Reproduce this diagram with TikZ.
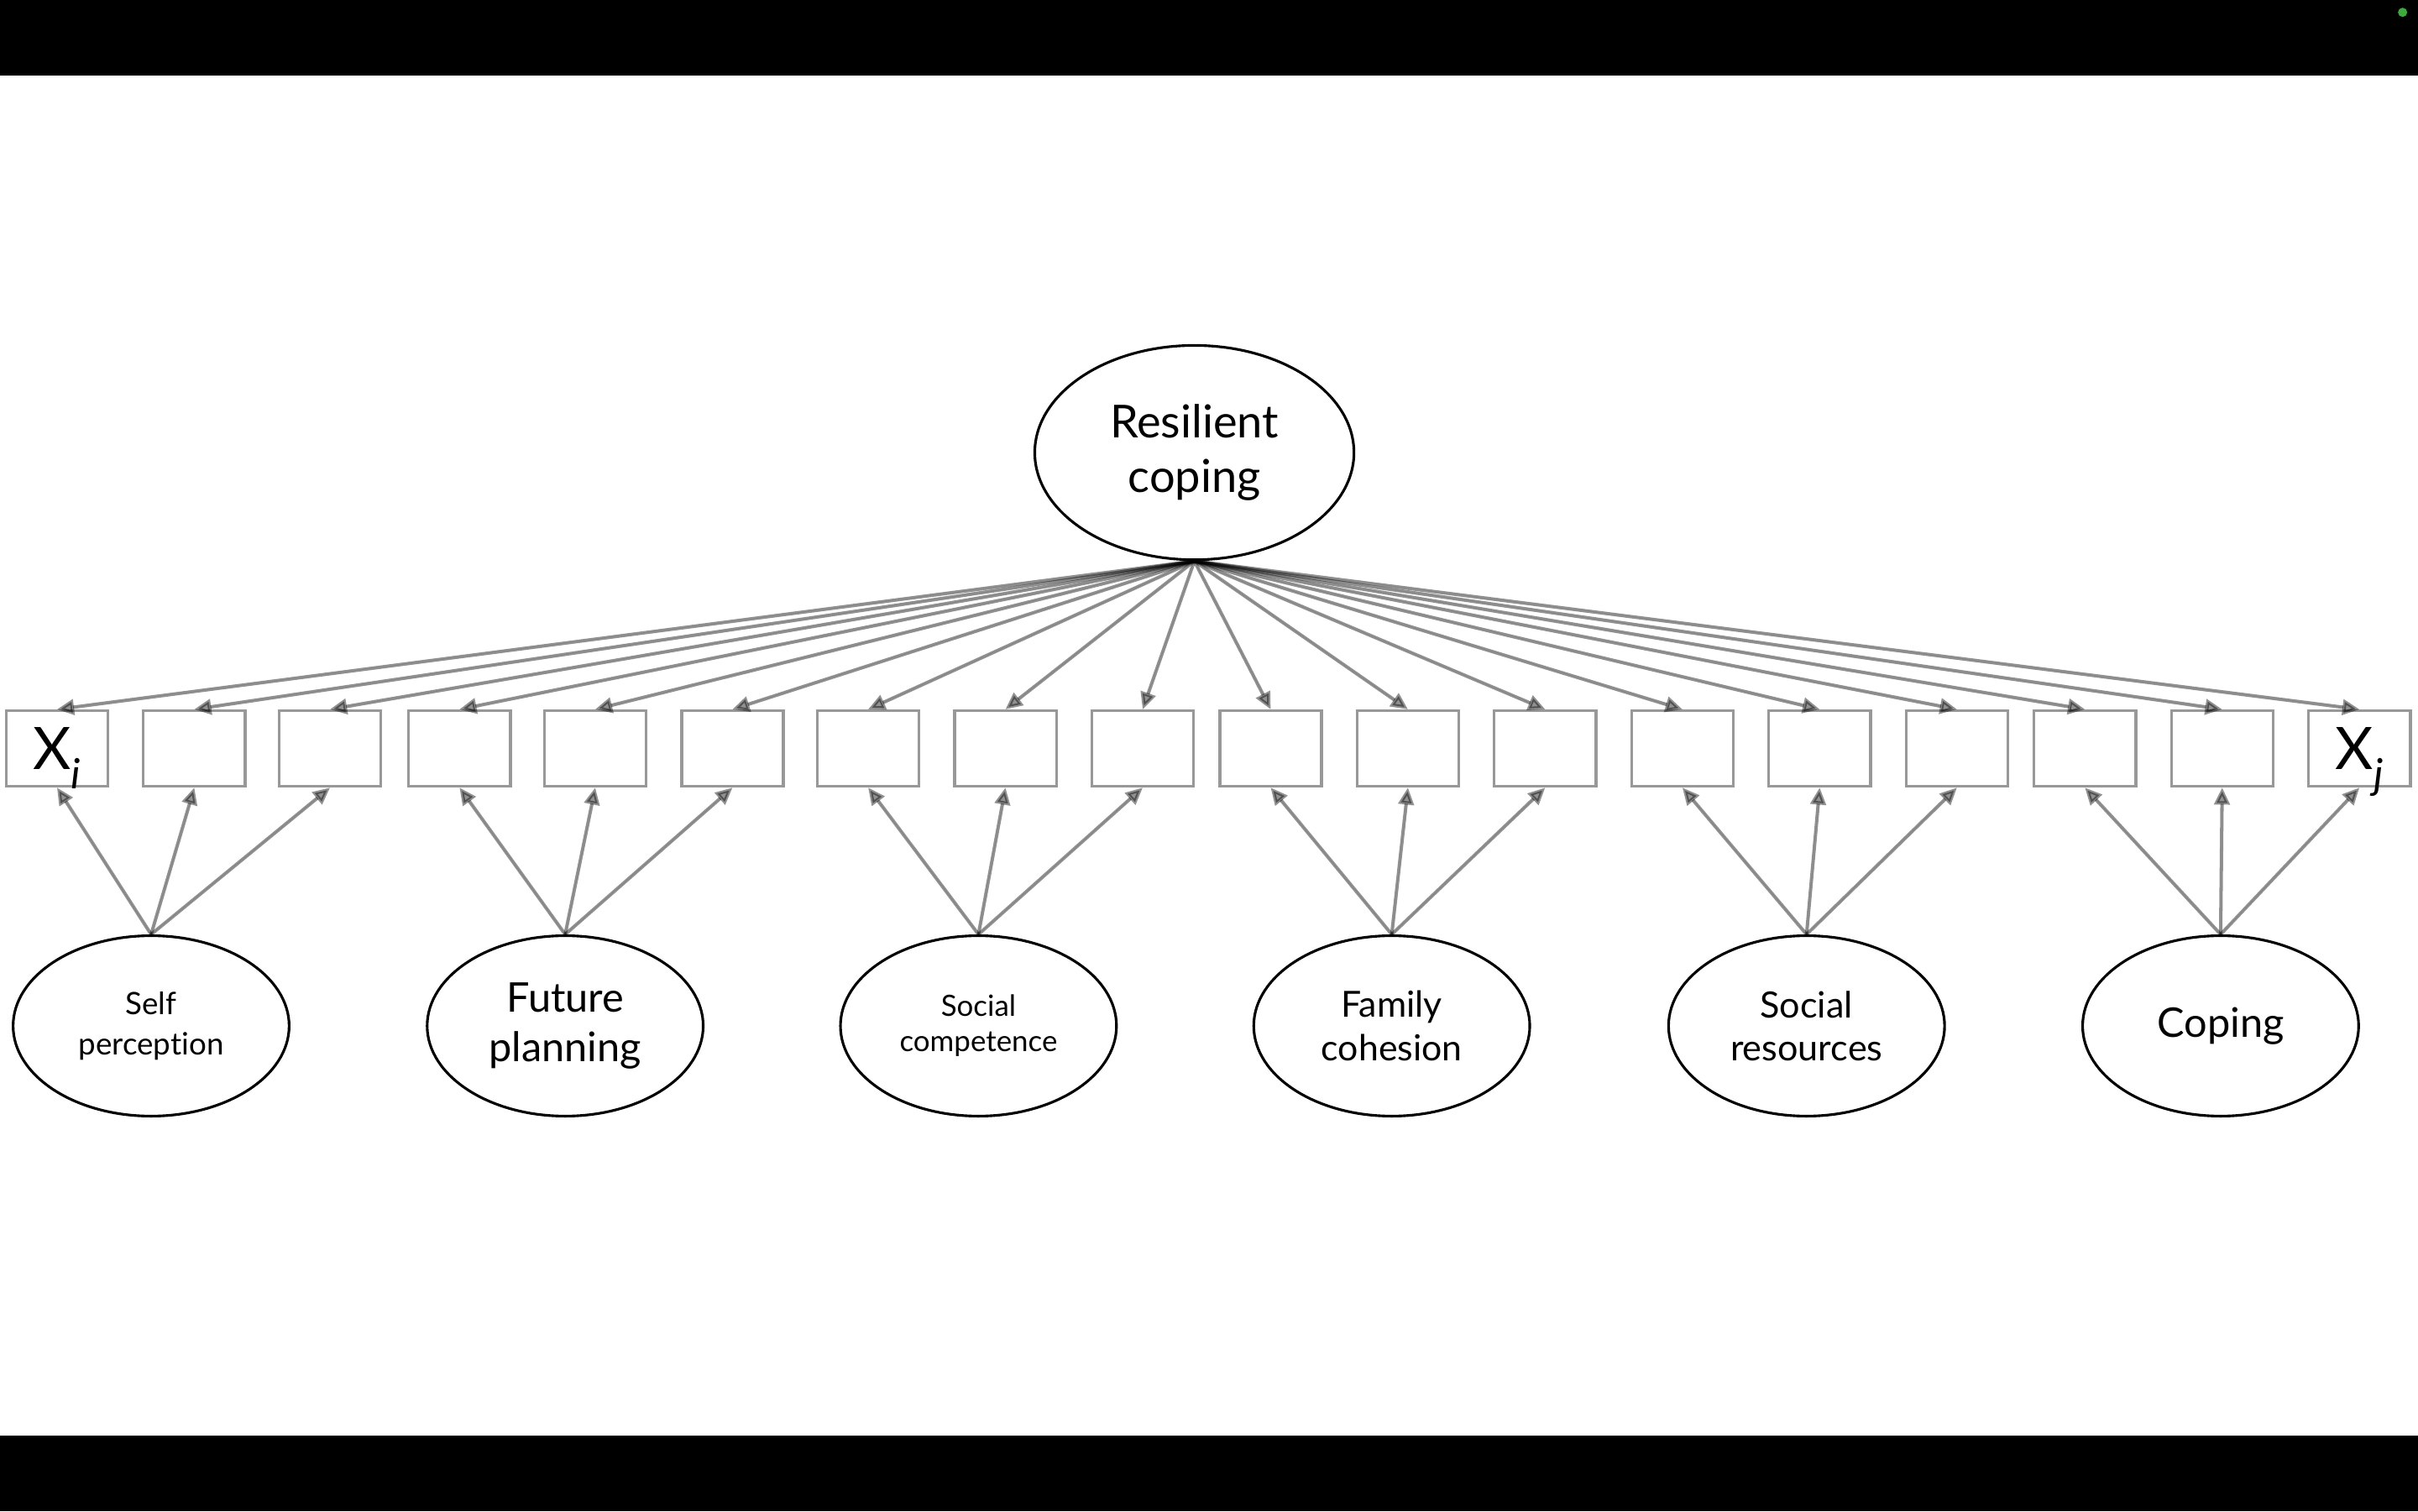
\documentclass[tikz,border=0pt]{standalone}
\usepackage{fontspec}
\setmainfont[Ligatures=NoCommon]{Lato}
\usetikzlibrary{shapes.geometric,arrows.meta}
\definecolor{boxgray}{RGB}{152,152,152}
\definecolor{dotgreen}{RGB}{60,170,60}
\begin{document}
\begin{tikzpicture}[x=1pt,y=-1pt,
  latent/.style={ellipse, draw=black, line width=1.7pt, inner sep=0pt, align=center, fill=white},
  lowlat/.style={latent, minimum width=179pt, minimum height=117pt},
  obs/.style={rectangle, draw=boxgray, line width=1.8pt, minimum width=66pt, minimum height=49pt, inner sep=0pt, fill=white},
  load/.style={-{Triangle[length=11pt,width=10pt]}, line width=2.2pt, draw=black, fill=black, opacity=0.43}
]
\useasboundingbox (0,0) rectangle (1568,980);
\fill[white] (0,0) rectangle (1568,980);
\fill[black] (0,0) rectangle (1568,49);
\fill[black] (0,931) rectangle (1568,980);
\fill[dotgreen] (1558,8) circle (3pt);

% top latent
\node[latent, minimum width=207pt, minimum height=139pt, font=\fontsize{29.5}{35}\selectfont] (rc) at (774.5,293.5) {Resilient\\coping};

% observed boxes
\foreach \x [count=\i] in {37,126,214,298,386,475,563,652,741,824,913,1002,1091,1180,1269,1352,1441,1530}
  \node[obs] (b\i) at (\x,485.4) {};

\node[font=\fontsize{38}{38}\selectfont] (xi) at (b1) {X\smash{\raisebox{-0.33em}{\fontsize{27}{27}\selectfont\itshape i}}};
\node[font=\fontsize{38}{38}\selectfont] (xj) at (b18) {X\smash{\raisebox{-0.33em}{\fontsize{27}{27}\selectfont\itshape j}}};

% lower latents
\node[lowlat, font=\fontsize{20}{26}\selectfont] (l1) at (98,665.3) {Self\\perception};
\node[lowlat, font=\fontsize{26.5}{32}\selectfont] (l2) at (366.5,665.3) {Future\\planning};
\node[lowlat, font=\fontsize{19}{23}\selectfont] (l3) at (634.5,665.3) {Social\\competence};
\node[lowlat, font=\fontsize{23.3}{28}\selectfont] (l4) at (902.5,665.3) {Family\\cohesion};
\node[lowlat, font=\fontsize{23.5}{28}\selectfont] (l5) at (1171.5,665.3) {Social\\resources};
\node[lowlat, font=\fontsize{26.5}{30}\selectfont] (l6) at (1440,665.3) {Coping};

% loadings from Resilient coping
\foreach \i in {1,...,18}
  \draw[load] (rc.south) -- (b\i.north);

% loadings from first-order factors
\foreach \k in {1,...,6}{
  \pgfmathtruncatemacro{\a}{3*\k-2}
  \pgfmathtruncatemacro{\b}{3*\k-1}
  \pgfmathtruncatemacro{\c}{3*\k}
  \draw[load] (l\k.north) -- (b\a.south);
  \draw[load] (l\k.north) -- (b\b.south);
  \draw[load] (l\k.north) -- (b\c.south);
}
\end{tikzpicture}
\end{document}
